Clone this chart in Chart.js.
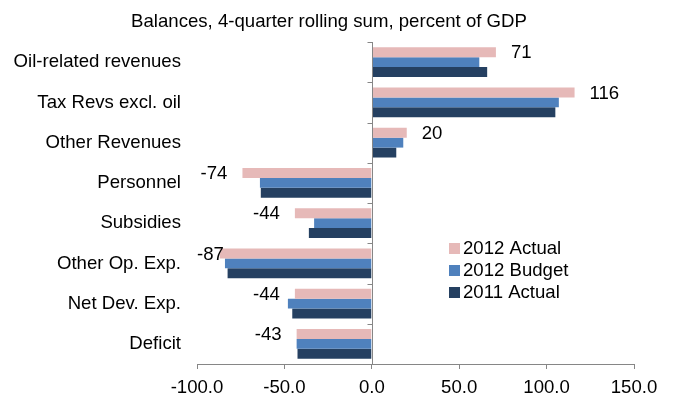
<!DOCTYPE html>
<html>
<head>
<meta charset="utf-8">
<script src="https://cdn.jsdelivr.net/npm/chart.js@4/dist/chart.umd.min.js"></script>
<style>
  html, body { margin: 0; padding: 0; background: #fff; }
  #wrap { width: 675px; height: 400px; position: relative; }
</style>
</head>
<body>
<div id="wrap"><canvas id="balChart"></canvas></div>
<script>
var categories = ['Oil-related revenues', 'Tax Revs excl. oil', 'Other Revenues', 'Personnel',
    'Subsidies', 'Other Op. Exp.', 'Net Dev. Exp.', 'Deficit'];
var actual2012 = [71, 116, 20, -74, -44, -87, -44, -43];
var budget2012 = [61.5, 107, 18, -64, -33, -84, -48, -43];
var actual2011 = [66, 105, 14, -63.5, -36, -82.5, -45.5, -42.5];
var xTicks = [-100, -50, 0, 50, 100, 150];

var FONT = '"Liberation Sans", Arial, sans-serif';
var FSIZE = 18.6;
var AXIS_GREY = '#868686';

// title drawn by hand so it can sit off-centre like the original
var titlePlugin = {
    id: 'titleText',
    afterDraw: function (chart) {
        var c = chart.ctx;
        c.save();
        c.font = FSIZE + 'px ' + FONT;
        c.fillStyle = '#000';
        c.textAlign = 'center';
        c.textBaseline = 'middle';
        c.fillText('Balances, 4-quarter rolling sum, percent of GDP', 329, 22);
        c.restore();
    }
};

// zero line with tick marks at category boundaries
var zeroTicks = {
    id: 'zeroTicks',
    afterDatasetsDraw: function (chart) {
        var c = chart.ctx, x0 = chart.scales.x.getPixelForValue(0);
        var area = chart.chartArea;
        var step = (area.bottom - area.top) / categories.length;
        var xl = Math.round(x0) + 0.5;
        c.save();
        c.strokeStyle = AXIS_GREY;
        c.lineWidth = 1;
        c.beginPath();
        c.moveTo(xl, area.top);
        c.lineTo(xl, area.bottom);
        for (var i = 0; i <= categories.length; i++) {
            var y = Math.round(area.top + i * step) + 0.5;
            c.moveTo(xl - 5, y);
            c.lineTo(xl, y);
        }
        c.stroke();
        c.restore();
    }
};

// value labels for the 2012 Actual series
var valueLabels = {
    id: 'valueLabels',
    afterDatasetsDraw: function (chart) {
        var c = chart.ctx, meta = chart.getDatasetMeta(0), area = chart.chartArea;
        c.save();
        c.font = FSIZE + 'px ' + FONT;
        c.fillStyle = '#000';
        c.textBaseline = 'middle';
        c.textAlign = 'left';
        meta.data.forEach(function (bar, i) {
            var v = actual2012[i];
            var txt = String(Math.round(v));
            var w = c.measureText(txt).width;
            var x;
            if (v >= 0) {
                x = bar.x + 15;
            } else {
                x = Math.max(area.left, bar.x - 15 - w);
            }
            c.fillText(txt, x, bar.y + 1);
        });
        c.restore();
    }
};

// legend inside the plot, lower right
var innerLegend = {
    id: 'innerLegend',
    afterDraw: function (chart) {
        var c = chart.ctx, area = chart.chartArea;
        var x = area.left + 252, y = area.top + 206;
        c.save();
        c.font = FSIZE + 'px ' + FONT;
        c.textBaseline = 'middle';
        chart.data.datasets.forEach(function (ds, i) {
            var yy = y + i * 22;
            c.fillStyle = ds.backgroundColor;
            c.fillRect(x, yy - 5, 11, 11);
            c.fillStyle = '#000';
            c.fillText(ds.label, x + 14, yy + 1);
        });
        c.restore();
    }
};

new Chart(document.getElementById('balChart'), {
    type: 'bar',
    data: {
        labels: categories,
        datasets: [
            { label: '2012 Actual', data: actual2012, backgroundColor: '#E6B9B8' },
            { label: '2012 Budget', data: budget2012, backgroundColor: '#4F81BD' },
            { label: '2011 Actual', data: actual2011, backgroundColor: '#254061' }
        ]
    },
    options: {
        indexAxis: 'y',
        responsive: true,
        maintainAspectRatio: false,
        animation: false,
        layout: { padding: { top: 42, right: 41, left: 0, bottom: 0 } },
        datasets: { bar: { categoryPercentage: 0.74, barPercentage: 1.0, borderWidth: 0 } },
        plugins: {
            legend: { display: false },
            title: { display: false },
            tooltip: { enabled: false }
        },
        scales: {
            x: {
                min: -100,
                max: 150,
                afterBuildTicks: function (scale) {
                    scale.ticks = xTicks.map(function (v) { return { value: v }; });
                },
                afterFit: function (scale) { scale.height = 36; },
                ticks: {
                    color: '#000',
                    font: { family: FONT, size: FSIZE },
                    padding: 8,
                    maxRotation: 0,
                    callback: function (v) { return Number(v).toFixed(1); }
                },
                grid: {
                    color: 'rgba(0,0,0,0)',
                    tickColor: AXIS_GREY,
                    tickLength: 5,
                    drawOnChartArea: false
                },
                border: { display: true, color: AXIS_GREY, width: 1 }
            },
            y: {
                afterFit: function (scale) { scale.width = 197; },
                ticks: {
                    color: '#000',
                    font: { family: FONT, size: FSIZE },
                    padding: 16
                },
                grid: { display: false, drawTicks: false },
                border: { display: false }
            }
        }
    },
    plugins: [titlePlugin, zeroTicks, valueLabels, innerLegend]
});
</script>
</body>
</html>
